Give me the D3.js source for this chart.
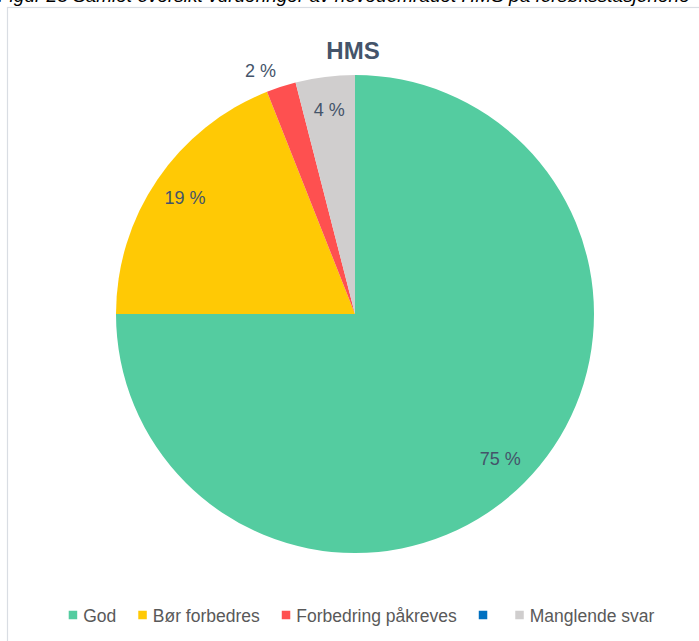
<!DOCTYPE html>
<html>
<head>
<meta charset="utf-8">
<script src="https://cdn.jsdelivr.net/npm/d3@7"></script>
<style>
  html, body { margin: 0; padding: 0; background: #fff; overflow: hidden; }
  svg { display: block; font-family: "Liberation Sans", "Open Sans", sans-serif; }
</style>
</head>
<body>
<svg id="chart" width="699" height="641"></svg>
<script>
// Survey results for the HMS area (share of answers, %)
const categories = ["God", "Bør forbedres", "Forbedring påkreves", "", "Manglende svar"];
const values = [75, 19, 2, 0, 4];
const colors = ["#54cca0", "#ffc905", "#fe5050", "#0070c0", "#d0cece"];
const title = "HMS";
const caption = "Figur 23 Samlet oversikt vurderinger av hovedområdet HMS på forsøksstasjonene";

const svg = d3.select("#chart");

// figure caption above the chart frame (runs past the top edge)
svg.append("text")
  .attr("x", -2).attr("y", 1.5)
  .attr("font-size", 19).attr("font-style", "italic")
  .attr("fill", "#000")
  .text(caption);

// chart frame
svg.append("rect")
  .attr("x", 7.5).attr("y", 7.5)
  .attr("width", 720).attr("height", 660)
  .attr("fill", "#fff").attr("stroke", "#d9dde3").attr("stroke-width", 1.2);

// title
svg.append("text")
  .attr("x", 353).attr("y", 59)
  .attr("text-anchor", "middle")
  .attr("font-size", 24).attr("font-weight", "bold")
  .attr("fill", "#44546a")
  .text(title);

const cx = 355, cy = 314, r = 239;
const data = categories.map((c, i) => ({ name: c, value: values[i], color: colors[i] }));

const pie = d3.pie().sort(null).value(d => d.value);
const arcs = pie(data);
const arc = d3.arc().innerRadius(0).outerRadius(r);

const g = svg.append("g").attr("transform", `translate(${cx},${cy})`);

g.selectAll("path.slice")
  .data(arcs.filter(a => a.data.value > 0))
  .join("path")
  .attr("class", "slice")
  .attr("d", arc)
  .attr("fill", d => d.data.color);

// value labels: inside for larger slices, outside for the thin one
const inner = d3.arc().innerRadius(r * 0.86).outerRadius(r * 0.86);
const outer = d3.arc().innerRadius(r * 1.07).outerRadius(r * 1.07);
const labelArcs = arcs.filter(a => a.data.value > 0);
g.selectAll("text.lbl")
  .data(labelArcs)
  .join("text")
  .attr("class", "lbl")
  .each(function (d) {
    const small = d.data.value < 3;
    const p = (small ? outer : inner).centroid(d);
    d3.select(this)
      .attr("x", p[0]).attr("y", p[1])
      .attr("text-anchor", small ? "end" : "middle")
      .attr("dominant-baseline", "central");
  })
  .attr("font-size", 18)
  .attr("fill", "#44546a")
  .text(d => `${d.data.value} %`);

// legend along the bottom, centred
const legend = svg.append("g").attr("transform", "translate(0,616)");
const items = legend.selectAll("g.item").data(data).join("g").attr("class", "item");
const sq = 8.5, gapText = 6, gapItem = 22;
items.append("rect")
  .attr("y", -sq / 2 - 1).attr("width", sq).attr("height", sq)
  .attr("fill", d => d.color);
items.append("text")
  .attr("x", sq + gapText).attr("y", 0)
  .attr("dominant-baseline", "central")
  .attr("font-size", 17.5).attr("fill", "#595959")
  .text(d => d.name);
let widths = [];
items.each(function () {
  const t = d3.select(this).select("text").node();
  widths.push(sq + gapText + t.getComputedTextLength());
});
const total = d3.sum(widths) + gapItem * (widths.length - 1);
let x0 = 361.5 - total / 2;
items.attr("transform", (d, i) => {
  const tx = x0;
  x0 += widths[i] + gapItem;
  return `translate(${tx},0)`;
});
</script>
</body>
</html>
